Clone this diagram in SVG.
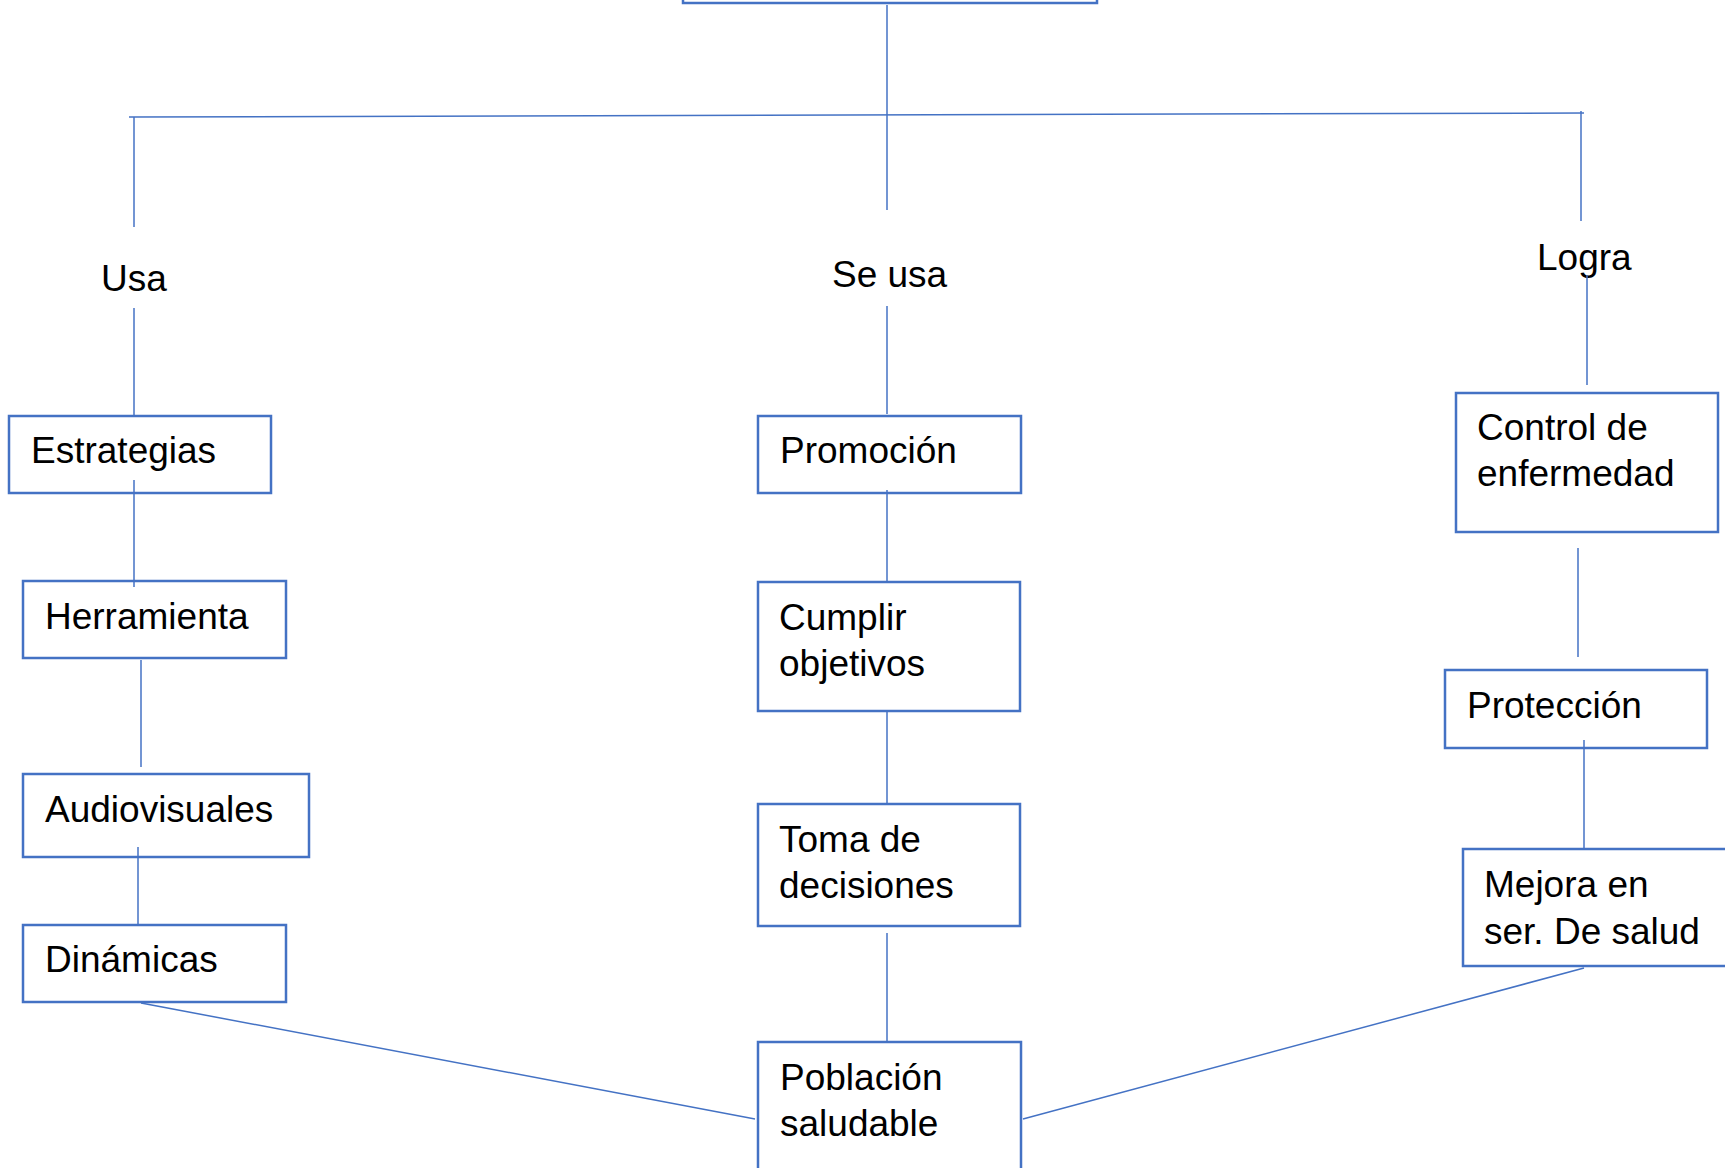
<svg xmlns="http://www.w3.org/2000/svg" width="1725" height="1168" viewBox="0 0 1725 1168">
<style>
.box{fill:#ffffff;stroke:#4472C4;stroke-width:2.5}
.ln{stroke:#4472C4;stroke-width:1.5;fill:none}
.t{font-family:"Liberation Sans",Arial,sans-serif;font-size:37px;fill:#000000}
</style>
<rect width="1725" height="1168" fill="#ffffff"/>
<g id="top"><rect class="box" x="683" y="-50" width="414" height="53"/></g>
<g id="lbl-usa"><text class="t" x="101" y="291">Usa</text></g>
<g id="lbl-seusa"><text class="t" x="832" y="287">Se usa</text></g>
<g id="lbl-logra"><text class="t" x="1537" y="270">Logra</text></g>
<g id="estrategias"><rect class="box" x="9" y="416" width="262" height="77"/><text class="t" x="31" y="463">Estrategias</text></g>
<g id="herramienta"><rect class="box" x="23" y="581" width="263" height="77"/><text class="t" x="45" y="629">Herramienta</text></g>
<g id="audiovisuales"><rect class="box" x="23" y="774" width="286" height="83"/><text class="t" x="45" y="822">Audiovisuales</text></g>
<g id="dinamicas"><rect class="box" x="23" y="925" width="263" height="77"/><text class="t" x="45" y="972">Dinámicas</text></g>
<g id="promocion"><rect class="box" x="758" y="416" width="263" height="77"/><text class="t" x="780" y="463">Promoción</text></g>
<g id="cumplir"><rect class="box" x="758" y="582" width="262" height="129"/><text class="t" x="779" y="630">Cumplir</text><text class="t" x="779" y="676">objetivos</text></g>
<g id="toma"><rect class="box" x="758" y="804" width="262" height="122"/><text class="t" x="779" y="852">Toma de</text><text class="t" x="779" y="898">decisiones</text></g>
<g id="poblacion"><rect class="box" x="758" y="1042" width="263" height="160"/><text class="t" x="780" y="1090">Población</text><text class="t" x="780" y="1136">saludable</text></g>
<g id="control"><rect class="box" x="1456" y="393" width="262" height="139"/><text class="t" x="1477" y="440">Control de</text><text class="t" x="1477" y="486">enfermedad</text></g>
<g id="proteccion"><rect class="box" x="1445" y="670" width="262" height="78"/><text class="t" x="1467" y="718">Protección</text></g>
<g id="mejora"><rect class="box" x="1463" y="849" width="264" height="117"/><text class="t" x="1484" y="897">Mejora en</text><text class="t" x="1484" y="944">ser. De salud</text></g>
<g id="connectors">
<line class="ln" x1="887" y1="5" x2="887" y2="210"/>
<line class="ln" x1="129" y1="117" x2="1584" y2="113" stroke-width="2"/>
<line class="ln" x1="134" y1="117" x2="134" y2="227"/>
<line class="ln" x1="1581" y1="111" x2="1581" y2="221"/>
<line class="ln" x1="134" y1="308" x2="134" y2="416"/>
<line class="ln" x1="134" y1="480" x2="134" y2="587"/>
<line class="ln" x1="141" y1="660" x2="141" y2="767"/>
<line class="ln" x1="138" y1="847" x2="138" y2="925"/>
<line class="ln" x1="141" y1="1003" x2="755" y2="1119"/>
<line class="ln" x1="887" y1="306" x2="887" y2="414"/>
<line class="ln" x1="887" y1="490" x2="887" y2="582"/>
<line class="ln" x1="887" y1="711" x2="887" y2="804"/>
<line class="ln" x1="887" y1="933" x2="887" y2="1042"/>
<line class="ln" x1="1587" y1="275" x2="1587" y2="385"/>
<line class="ln" x1="1578" y1="548" x2="1578" y2="657"/>
<line class="ln" x1="1584" y1="740" x2="1584" y2="849"/>
<line class="ln" x1="1584" y1="968" x2="1023" y2="1119"/>
</g>
</svg>
